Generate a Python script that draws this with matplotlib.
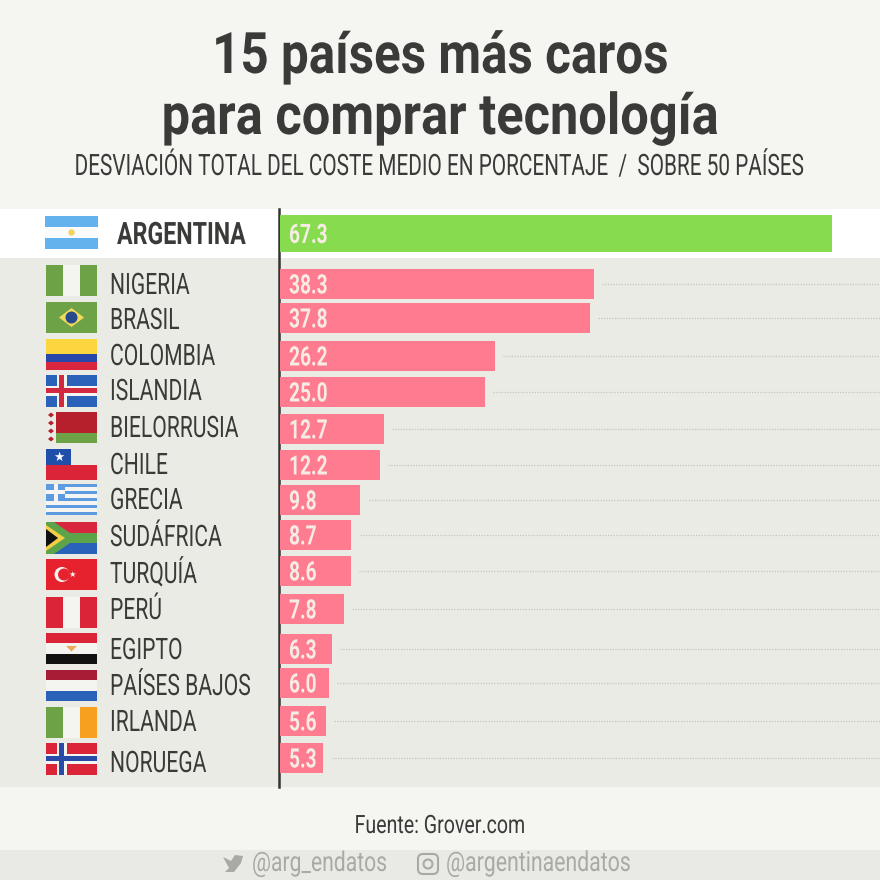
import matplotlib
matplotlib.use('Agg')
import matplotlib.pyplot as plt
from matplotlib.patches import Rectangle, Polygon, Circle, FancyBboxPatch
from matplotlib.patheffects import AbstractPathEffect
from matplotlib.transforms import Affine2D

paises = ['ARGENTINA', 'NIGERIA', 'BRASIL', 'COLOMBIA', 'ISLANDIA', 'BIELORRUSIA', 'CHILE', 'GRECIA',
          'SUDÁFRICA', 'TURQUÍA', 'PERÚ', 'EGIPTO', 'PAÍSES BAJOS', 'IRLANDA', 'NORUEGA']
valores = [67.3, 38.3, 37.8, 26.2, 25.0, 12.7, 12.2, 9.8, 8.7, 8.6, 7.8, 6.3, 6.0, 5.6, 5.3]

# posiciones en pixeles de la imagen: centro de barra, linea base del nombre, borde superior de bandera
filas_y = [233.5, 284, 318, 356, 392, 429, 465, 500, 535, 571, 609, 649, 683, 721, 758]
nombres_y = [244, 294, 329, 365, 400, 437, 474, 509, 546, 583, 619, 659, 695, 731, 772]
banderas_y = [216, 265, 302, 339, 375, 412, 449, 484, 522, 559, 597, 633, 670, 707, 743]

FUENTE = ['Roboto', 'DejaVu Sans']
OSCURO = '#3a3b39'
VERDE = '#86dc4e'
ROSA = '#ff7b90'


class Alargar(AbstractPathEffect):
    # estira el texto en vertical para imitar una fuente condensada
    def __init__(self, sy):
        super().__init__()
        self.sy = sy

    def draw_path(self, renderer, gc, tpath, affine, rgbFace=None):
        renderer.draw_path(gc, tpath, Affine2D().scale(1, self.sy) + affine, rgbFace)


def rotulo(eje, x, y, s, size, sy, color=OSCURO, weight='normal', ha='left'):
    eje.text(x, y, s, fontsize=size, fontweight=weight, color=color, family=FUENTE, ha=ha, va='baseline',
             path_effects=[Alargar(sy)], zorder=6)


fig = plt.figure(figsize=(8.8, 8.8), dpi=100, facecolor='#f5f6f1')

# capa de fondo en pixeles
bg = fig.add_axes([0, 0, 1, 1])
bg.set_xlim(0, 880)
bg.set_ylim(880, 0)
bg.axis('off')
bg.add_patch(Rectangle((0, 258), 880, 529, color='#ebebe6', lw=0))
bg.add_patch(Rectangle((0, 209), 880, 49, color='white', lw=0))
bg.add_patch(Rectangle((0, 850), 880, 30, color='#e9e9e6', lw=0))

# barras: eje x en unidades de porcentaje, eje y en pixeles
ax = fig.add_axes([280 / 880, 0, 600 / 880, 1])
ax.patch.set_alpha(0)
ax.set_xlim(0, 600 / 8.2)
ax.set_ylim(880, 0)
ax.axis('off')
for i, (v, y) in enumerate(zip(valores, filas_y)):
    if i == 0:
        ax.barh(y, v, height=37, color=VERDE)
    else:
        ax.barh(y, v, height=30, color=ROSA)
        ax.plot([v + 1, 600 / 8.2], [y, y], color='#c6c6c2', lw=0.9, ls=(0, (1, 1.2)))
    rotulo(ax, 1.1, y + 9.5, f'{v:.1f}', 13.8, 1.4, color='#f7ece4', weight='bold')

bg.plot([279, 279], [209, 787], color='#333433', lw=1.8, zorder=5)


def franjas_h(x, y, w, h, colores, pesos=None):
    pesos = pesos or [1] * len(colores)
    total = sum(pesos)
    yy = y
    for c, p in zip(colores, pesos):
        alto = h * p / total
        bg.add_patch(Rectangle((x, yy), w, alto, color=c, lw=0))
        yy += alto


def franjas_v(x, y, w, h, colores):
    for k, c in enumerate(colores):
        bg.add_patch(Rectangle((x + w * k / len(colores), y), w / len(colores), h, color=c, lw=0))


def cruz(x, y, w, h, fondo, borde, centro):
    bg.add_patch(Rectangle((x, y), w, h, color=fondo, lw=0))
    cx = x + w * 0.31
    cy = y + h / 2
    bg.add_patch(Rectangle((cx - 5, y), 10, h, color=borde, lw=0))
    bg.add_patch(Rectangle((x, cy - 5), w, 10, color=borde, lw=0))
    bg.add_patch(Rectangle((cx - 2.5, y), 5, h, color=centro, lw=0))
    bg.add_patch(Rectangle((x, cy - 2.5), w, 5, color=centro, lw=0))


FX, FW, FH = 46, 51, 31
BLANCO = '#f4f5f0'

# Argentina
y0 = banderas_y[0]
franjas_h(45, y0, 53, 33, ['#63b2ee', '#fbfbfb', '#63b2ee'])
bg.add_patch(Circle((71.5, y0 + 16.5), 3.2, color='#f3d35c', lw=0))

# Nigeria
franjas_v(FX, banderas_y[1], FW, FH, ['#6ea246', BLANCO, '#6ea246'])

# Brasil
y0 = banderas_y[2]
bg.add_patch(Rectangle((FX, y0), FW, FH, color='#6ea246', lw=0))
bg.add_patch(Polygon([(FX + 13, y0 + 15.5), (FX + 25.5, y0 + 6), (FX + 38, y0 + 15.5), (FX + 25.5, y0 + 25)],
                     color='#f2d95a', lw=0))
bg.add_patch(Circle((FX + 25.5, y0 + 15.5), 6, color='#264a8c', lw=0))

# Colombia
franjas_h(FX, banderas_y[3], FW, FH, ['#fbd63f', '#2748a8', '#d8263f'], [2, 1, 1])

# Islandia
cruz(FX, banderas_y[4], FW, FH + 1, '#2a62ba', BLANCO, '#d22840')

# Bielorrusia
y0 = banderas_y[5]
bg.add_patch(Rectangle((FX + 10, y0), 41, 21, color='#b5202c', lw=0))
bg.add_patch(Rectangle((FX + 10, y0 + 21), 41, 10, color='#6ea246', lw=0))
for dy in (3, 11, 19, 27):
    bg.add_patch(Polygon([(FX + 2, y0 + dy), (FX + 5, y0 + dy - 2.5), (FX + 8, y0 + dy), (FX + 5, y0 + dy + 2.5)],
                         color='#b5202c', lw=0))

# Chile
y0 = banderas_y[6]
bg.add_patch(Rectangle((FX, y0 + 16), FW, 15, color='#dc2438', lw=0))
bg.add_patch(Rectangle((FX, y0), 25, 16, color='#1f4fa8', lw=0))
bg.text(FX + 12.5, y0 + 8, '★', color='white', fontsize=9, ha='center', va='center')

# Grecia
y0 = banderas_y[7]
franjas_h(FX, y0, FW, FH, ['#5c9be0', BLANCO] * 4 + ['#5c9be0'])
bg.add_patch(Rectangle((FX, y0), 19, 17, color='#5c9be0', lw=0))
bg.add_patch(Rectangle((FX + 7.5, y0), 4, 17, color=BLANCO, lw=0))
bg.add_patch(Rectangle((FX, y0 + 6.5), 19, 4, color=BLANCO, lw=0))

# Sudafrica
y0 = banderas_y[8]
franjas_h(FX, y0, FW, FH + 1, ['#d8263f', BLANCO, '#2a62ba'])
bg.add_patch(Polygon([(FX, y0), (FX + 8, y0), (FX + 24, y0 + 11), (FX + 51, y0 + 11), (FX + 51, y0 + 21),
                      (FX + 24, y0 + 21), (FX + 8, y0 + 32), (FX, y0 + 32)], color='#5da34a', lw=0))
bg.add_patch(Polygon([(FX, y0 + 3), (FX + 19, y0 + 16), (FX, y0 + 29)], color='#f2cf45', lw=0))
bg.add_patch(Polygon([(FX, y0 + 7), (FX + 12, y0 + 16), (FX, y0 + 25)], color='#111111', lw=0))

# Turquia
y0 = banderas_y[9]
bg.add_patch(Rectangle((FX, y0), FW, FH, color='#e5222e', lw=0))
bg.add_patch(Circle((FX + 16, y0 + 15.5), 7.5, color=BLANCO, lw=0))
bg.add_patch(Circle((FX + 18, y0 + 15.5), 6, color='#e5222e', lw=0))
bg.text(FX + 26, y0 + 15.5, '★', color=BLANCO, fontsize=6, ha='center', va='center')

# Peru
franjas_v(FX, banderas_y[10], FW, FH, ['#dc2438', BLANCO, '#dc2438'])

# Egipto
y0 = banderas_y[11]
franjas_h(FX, y0, FW, FH, ['#dc2438', BLANCO, '#111111'])
bg.add_patch(Polygon([(FX + 20, y0 + 13), (FX + 31, y0 + 13), (FX + 25.5, y0 + 18.5)], color='#eda65a', lw=0))

# Paises Bajos
franjas_h(FX, banderas_y[12], FW, FH, ['#a81c36', BLANCO, '#2a62ba'])

# Irlanda
franjas_v(FX, banderas_y[13], FW, FH, ['#6ea246', BLANCO, '#f7a01f'])

# Noruega
cruz(FX, banderas_y[14], FW, FH + 1, '#dc2438', BLANCO, '#2a4aa8')

# nombres de paises
for i, (p, y) in enumerate(zip(paises, nombres_y)):
    if i == 0:
        rotulo(bg, 117, y, p, 16.7, 1.33, weight='bold')
    else:
        rotulo(bg, 110, y, p, 15.2, 1.4)

# titulos
rotulo(bg, 440, 73, '15 países más caros', 35.5, 1.16, weight='bold', ha='center')
rotulo(bg, 440, 134, 'para comprar tecnología', 36.4, 1.13, weight='bold', ha='center')
rotulo(bg, 440, 175, 'DESVIACIÓN TOTAL DEL COSTE MEDIO EN PORCENTAJE  /  SOBRE 50 PAÍSES', 14.95, 1.42, ha='center')

# pie
GRIS = '#a9a9a6'
rotulo(bg, 440, 833, 'Fuente: Grover.com', 14.1, 1.29, ha='center')
rotulo(bg, 252, 871, '@arg_endatos', 15.2, 1.3, color=GRIS)
rotulo(bg, 446, 871, '@argentinaendatos', 15.3, 1.3, color=GRIS)

# iconos de redes
bg.add_patch(Polygon([(223, 857), (231, 861), (235, 855), (243, 856), (241, 863), (234, 872), (225, 872), (229, 868)],
                     color=GRIS, lw=0))
bg.add_patch(FancyBboxPatch((418, 854), 20, 20, boxstyle='round,pad=0,rounding_size=5', fc='none',
                            ec=GRIS, lw=1.5))
bg.add_patch(Circle((428, 864), 4.5, fc='none', ec=GRIS, lw=1.5))

fig.savefig('out.png', dpi=100)
